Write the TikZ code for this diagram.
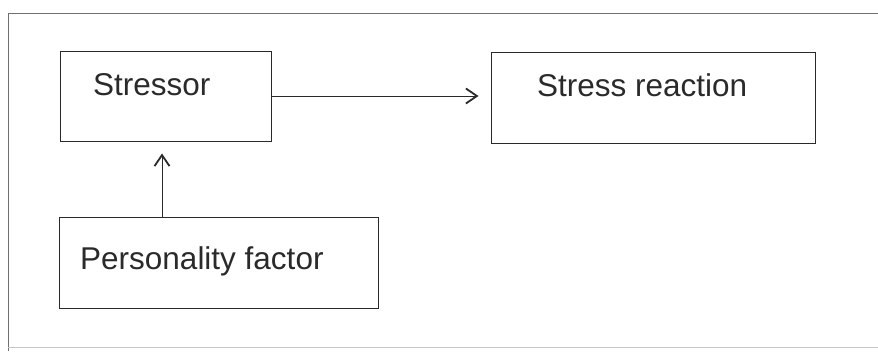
\documentclass[tikz,border=0pt]{standalone}
\usepackage{fontspec}
\setmainfont{Liberation Sans}
\usetikzlibrary{arrows.meta,positioning}
\definecolor{ink}{HTML}{2A2A2A}
\definecolor{framegray}{HTML}{707070}

\begin{document}
\begin{tikzpicture}[x=1pt,y=-1pt,
  box/.style={draw=ink,line width=1pt,inner sep=0pt},
  lbl/.style={font=\fontsize{31.5}{36}\selectfont,text=ink,inner sep=0pt,anchor=base west},
  link/.style={draw=ink,line width=1pt,shorten >=12pt,-{Straight Barb[length=11pt,width=15pt,line width=1.8pt]}}]
  \useasboundingbox (0,0) rectangle (878,351);

  % outer frame
  \draw[framegray,line width=0.9pt] (8,351) -- (8,13) -- (878,13);
  \draw[framegray!40,line width=0.8pt] (8,347) -- (878,347);

  % boxes
  \node[box,minimum width=211pt,minimum height=90pt] (stressor) at (165.5,96) {};
  \node[box,minimum width=324pt,minimum height=91pt] (reaction) at (653,97.5) {};
  \node[box,minimum width=319pt,minimum height=91pt] (personality) at (218.5,262.5) {};

  % labels
  \node[lbl] (stressortxt) at (93,95) {Stressor};
  \node[lbl] (reactiontxt) at (537,96) {Stress reaction};
  \node[lbl] (personalitytxt) at (80,269) {Personality factor};

  % connectors
  \draw[link] (stressor.east) -- (stressor.east -| reaction.west);
  \draw[link] ([xshift=-3.5pt]stressor.south |- personality.north) -- ([xshift=-3.5pt]stressor.south);
\end{tikzpicture}
\end{document}
